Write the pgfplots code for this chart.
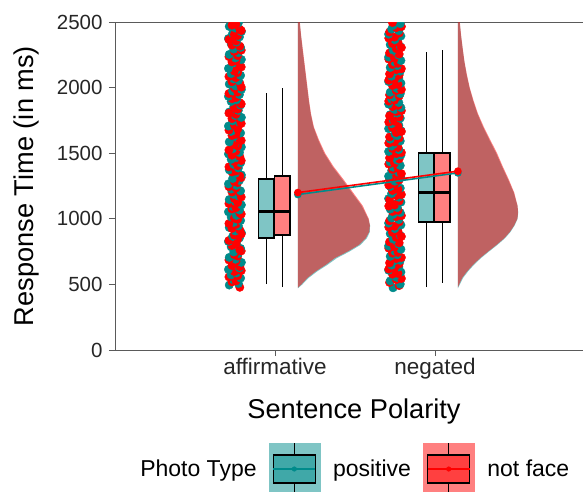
\documentclass[border=0pt]{standalone}
\usepackage{pgfplots}
\pgfplotsset{compat=1.18}
\usepackage{pgfplotstable}
\usepackage{fontspec}
\setmainfont{Liberation Sans}

\definecolor{tealpt}{RGB}{0,139,139}
\definecolor{redpt}{RGB}{255,0,0}
\definecolor{tealbox}{RGB}{127,197,197}
\definecolor{redbox}{RGB}{255,128,128}
\definecolor{tealmid}{RGB}{64,168,168}
\definecolor{redmid}{RGB}{255,64,64}
\definecolor{axgray}{RGB}{90,90,90}

% half-violin outlines (y, half width in category units)
\pgfplotstableread{
y w
475 0
500 0.022
550 0.060
600 0.112
650 0.175
700 0.230
750 0.310
800 0.380
850 0.423
900 0.446
950 0.450
1000 0.443
1100 0.405
1200 0.345
1300 0.285
1400 0.222
1500 0.170
1600 0.132
1700 0.100
1800 0.082
1900 0.070
2000 0.060
2100 0.050
2200 0.040
2300 0.030
2400 0.020
2500 0.012
2600 0.008
2600 0
}\vAR
\pgfplotstableread{
y w
470 0
500 0.028
550 0.068
600 0.122
650 0.186
700 0.243
750 0.322
800 0.390
850 0.430
900 0.450
950 0.451
1000 0.440
1100 0.398
1200 0.337
1300 0.277
1400 0.215
1500 0.164
1600 0.127
1700 0.097
1800 0.080
1900 0.068
2000 0.058
2100 0.048
2200 0.038
2300 0.028
2400 0.019
2500 0.011
2600 0.007
2600 0
}\vAT
\pgfplotstableread{
y w
478 0
500 0.008
550 0.027
600 0.058
650 0.095
700 0.138
750 0.188
800 0.240
850 0.288
900 0.325
950 0.352
1000 0.372
1050 0.376
1100 0.373
1200 0.352
1300 0.318
1400 0.280
1500 0.245
1600 0.203
1700 0.162
1800 0.126
1900 0.098
2000 0.074
2100 0.056
2200 0.041
2300 0.030
2400 0.020
2500 0.012
2600 0.008
2600 0
}\vNR
\pgfplotstableread{
y w
470 0
500 0.012
550 0.033
600 0.064
650 0.101
700 0.144
750 0.194
800 0.246
850 0.293
900 0.329
950 0.355
1000 0.373
1050 0.377
1100 0.372
1200 0.349
1300 0.313
1400 0.275
1500 0.239
1600 0.197
1700 0.157
1800 0.122
1900 0.095
2000 0.072
2100 0.054
2200 0.040
2300 0.029
2400 0.019
2500 0.011
2600 0.007
2600 0
}\vNT

% jittered raw points: affirmative
\pgfplotstableread{
dx y c
-0.036 495 t
0.030 478 r
0.021 507 t
-0.019 519 r
-0.008 534 t
0.006 526 r
0.035 548 t
-0.038 557 r
-0.024 573 t
0.017 566 r
0.009 587 t
-0.004 598 r
-0.041 614 t
0.039 605 r
0.028 626 t
0.030 636 r
-0.015 655 t
-0.019 644 r
0.040 668 t
0.006 675 r
0.002 692 t
-0.038 686 r
-0.036 706 t
0.017 716 r
0.021 735 t
-0.004 727 r
-0.008 747 t
0.039 755 r
0.035 774 t
0.030 764 r
-0.024 786 t
-0.019 797 r
0.009 813 t
0.006 806 r
-0.041 827 t
-0.038 835 r
0.028 854 t
0.017 845 r
-0.015 866 t
-0.004 876 r
0.040 893 t
0.039 884 r
0.002 907 t
0.030 915 r
-0.036 934 t
-0.019 926 r
0.021 946 t
0.006 957 r
-0.008 973 t
-0.038 964 r
0.035 987 t
0.017 996 r
-0.024 1014 t
-0.004 1005 r
0.009 1026 t
0.039 1036 r
-0.041 1053 t
0.030 1044 r
0.028 1067 t
-0.019 1075 r
-0.015 1094 t
0.006 1085 r
0.040 1106 t
-0.038 1116 r
0.002 1133 t
0.017 1124 r
-0.036 1147 t
-0.004 1155 r
0.021 1174 t
0.039 1166 r
-0.008 1186 t
0.030 1197 r
0.035 1213 t
-0.019 1204 r
-0.024 1227 t
0.006 1235 r
0.009 1254 t
-0.038 1245 r
-0.041 1266 t
0.017 1276 r
0.028 1293 t
-0.004 1284 r
-0.015 1307 t
0.039 1315 r
0.040 1334 t
0.030 1326 r
0.002 1346 t
-0.019 1357 r
-0.036 1373 t
0.006 1364 r
0.021 1387 t
-0.038 1396 r
-0.008 1414 t
0.017 1405 r
0.035 1426 t
-0.004 1436 r
-0.024 1453 t
0.039 1444 r
0.009 1467 t
0.030 1475 r
-0.041 1494 t
-0.019 1485 r
0.028 1506 t
0.006 1516 r
-0.015 1533 t
-0.038 1524 r
0.040 1547 t
0.017 1555 r
0.002 1574 t
-0.004 1566 r
-0.036 1586 t
0.039 1597 r
0.021 1613 t
0.030 1604 r
-0.008 1627 t
-0.019 1635 r
0.035 1654 t
0.006 1645 r
-0.024 1666 t
-0.038 1676 r
0.009 1693 t
0.017 1684 r
-0.041 1707 t
-0.004 1715 r
0.028 1734 t
0.039 1726 r
-0.015 1746 t
0.030 1757 r
0.040 1773 t
-0.019 1764 r
0.002 1787 t
0.006 1796 r
-0.036 1814 t
-0.038 1805 r
0.021 1826 t
0.017 1836 r
-0.008 1853 t
-0.004 1844 r
0.035 1867 t
0.039 1875 r
-0.024 1894 t
0.030 1885 r
0.009 1906 t
-0.019 1916 r
-0.041 1933 t
0.006 1924 r
0.028 1947 t
-0.038 1955 r
-0.015 1974 t
0.017 1966 r
0.040 1986 t
-0.004 1997 r
0.002 2013 t
0.039 2004 r
-0.036 2027 t
0.030 2035 r
0.021 2054 t
-0.019 2045 r
-0.008 2066 t
0.006 2076 r
0.035 2093 t
-0.038 2084 r
-0.024 2107 t
0.017 2115 r
0.009 2134 t
-0.004 2126 r
-0.041 2146 t
0.039 2157 r
0.028 2173 t
0.030 2164 r
-0.015 2187 t
-0.019 2196 r
0.040 2214 t
0.006 2205 r
0.002 2226 t
-0.038 2236 r
-0.036 2253 t
0.017 2244 r
0.021 2267 t
-0.004 2275 r
-0.008 2294 t
0.039 2285 r
0.035 2306 t
0.030 2316 r
-0.024 2333 t
-0.019 2324 r
0.009 2347 t
0.006 2355 r
-0.041 2374 t
-0.038 2366 r
0.028 2386 t
0.017 2397 r
-0.015 2413 t
-0.004 2404 r
0.040 2427 t
0.039 2435 r
0.002 2454 t
0.030 2445 r
-0.036 2466 t
-0.019 2476 r
0.021 2493 t
0.006 2484 r
}\ptsA

% jittered raw points: negated
\pgfplotstableread{
dx y c
-0.012 474 t
0.026 491 r
0.033 502 t
-0.034 515 r
-0.030 527 t
0.008 536 r
0.014 553 t
0.040 545 r
-0.001 561 t
-0.016 578 r
0.037 594 t
0.019 584 r
-0.040 608 t
-0.039 617 r
0.024 633 t
-0.003 625 r
-0.021 647 t
0.026 656 r
-0.012 674 t
-0.034 664 r
0.033 683 t
0.008 697 r
-0.030 714 t
0.040 705 r
0.014 726 t
-0.016 738 r
-0.001 753 t
0.019 744 r
0.037 768 t
-0.039 776 r
-0.040 793 t
-0.003 785 r
0.024 807 t
0.026 817 r
-0.021 834 t
-0.034 824 r
-0.012 846 t
0.008 858 r
0.033 873 t
0.040 865 r
-0.030 887 t
-0.016 896 r
0.014 914 t
0.019 904 r
-0.001 925 t
-0.039 937 r
0.037 953 t
-0.003 944 r
-0.040 967 t
0.026 976 r
0.024 994 t
-0.034 985 r
-0.021 1006 t
0.008 1017 r
-0.012 1033 t
0.040 1024 r
0.033 1047 t
-0.016 1056 r
-0.030 1074 t
0.019 1064 r
0.014 1086 t
-0.039 1097 r
-0.001 1113 t
-0.003 1105 r
0.037 1127 t
0.026 1136 r
-0.040 1154 t
-0.034 1144 r
0.024 1165 t
0.008 1177 r
-0.021 1193 t
0.040 1185 r
-0.012 1207 t
-0.016 1216 r
0.033 1234 t
0.019 1224 r
-0.030 1246 t
-0.039 1257 r
0.014 1273 t
-0.003 1265 r
-0.001 1287 t
0.026 1296 r
0.037 1314 t
-0.034 1304 r
-0.040 1325 t
0.008 1337 r
0.024 1353 t
0.040 1344 r
-0.021 1367 t
-0.016 1376 r
-0.012 1394 t
0.019 1385 r
0.033 1406 t
-0.039 1417 r
-0.030 1433 t
-0.003 1424 r
0.014 1447 t
0.026 1456 r
-0.001 1474 t
-0.034 1464 r
0.037 1486 t
0.008 1497 r
-0.040 1513 t
0.040 1505 r
0.024 1527 t
-0.016 1536 r
-0.021 1554 t
0.019 1544 r
-0.012 1565 t
-0.039 1577 r
0.033 1593 t
-0.003 1585 r
-0.030 1607 t
0.026 1616 r
0.014 1634 t
-0.034 1624 r
-0.001 1646 t
0.008 1657 r
0.037 1673 t
0.040 1665 r
-0.040 1687 t
-0.016 1696 r
0.024 1714 t
0.019 1704 r
-0.021 1725 t
-0.039 1737 r
-0.012 1753 t
-0.003 1744 r
0.033 1767 t
0.026 1776 r
-0.030 1794 t
-0.034 1785 r
0.014 1806 t
0.008 1817 r
-0.001 1833 t
0.040 1824 r
0.037 1847 t
-0.016 1856 r
-0.040 1874 t
0.019 1864 r
0.024 1886 t
-0.039 1897 r
-0.021 1913 t
-0.003 1905 r
-0.012 1927 t
0.026 1936 r
0.033 1954 t
-0.034 1944 r
-0.030 1965 t
0.008 1977 r
0.014 1993 t
0.040 1985 r
-0.001 2007 t
-0.016 2016 r
0.037 2034 t
0.019 2024 r
-0.040 2046 t
-0.039 2057 r
0.024 2073 t
-0.003 2065 r
-0.021 2087 t
0.026 2096 r
-0.012 2114 t
-0.034 2104 r
0.033 2125 t
0.008 2137 r
-0.030 2153 t
0.040 2144 r
0.014 2167 t
-0.016 2176 r
-0.001 2194 t
0.019 2185 r
0.037 2206 t
-0.039 2217 r
-0.040 2233 t
-0.003 2224 r
0.024 2247 t
0.026 2256 r
-0.021 2274 t
-0.034 2264 r
-0.012 2286 t
0.008 2297 r
0.033 2313 t
0.040 2305 r
-0.030 2327 t
-0.016 2336 r
0.014 2354 t
0.019 2344 r
-0.001 2365 t
-0.039 2377 r
0.037 2393 t
-0.003 2385 r
-0.040 2407 t
0.026 2416 r
0.024 2434 t
-0.034 2424 r
-0.021 2446 t
0.008 2457 r
-0.012 2473 t
0.040 2465 r
0.033 2487 t
-0.016 2496 r
}\ptsB

\begin{document}
\begin{tikzpicture}
\begin{axis}[
  scale only axis, width=478pt, height=328pt,
  xmin=0, xmax=2.9875, ymin=0, ymax=2500,
  axis lines=left, axis line style={-, axgray, line width=0.8pt},
  clip marker paths=true,
  xtick={1,2}, xticklabels={affirmative,negated},
  ytick={0,500,1000,1500,2000,2500},
  tick align=outside, major tick length=6pt,
  tick style={axgray, line width=0.8pt},
  /pgf/number format/assume math mode=true,
  /pgf/number format/1000 sep={},
  tick label style={text=black!85},
  xticklabel style={font=\fontsize{22.5}{26}\selectfont, yshift=1pt},
  yticklabel style={font=\fontsize{20.5}{24}\selectfont, xshift=-3pt},
  xlabel={Sentence Polarity}, ylabel={Response Time (in ms)},
  label style={font=\fontsize{27.2}{31}\selectfont, text=black},
  xlabel style={at={(axis description cs:0.5,-0.2073)}, anchor=base},
  ylabel style={at={(axis description cs:-0.186,0.5)}, anchor=center},
  legend columns=-1,
  legend style={at={(axis description cs:0.488,-0.3628)}, anchor=center,
    draw=none, fill=none, font=\fontsize{23}{27}\selectfont,
    nodes={inner sep=0pt},
    /tikz/every even column/.append style={column sep=12pt},
    /tikz/every odd column/.append style={column sep=13pt}},
]
\coordinate (O) at (rel axis cs:0,0);
% top border line
\draw[axgray, line width=0.8pt] (rel axis cs:0,1) -- (rel axis cs:1,1);

% half violins
\addplot[draw=none, fill=tealpt, fill opacity=0.5, forget plot] table[x expr=1.143+\thisrow{w}, y=y] {\vAT};
\addplot[draw=none, fill=redpt, fill opacity=0.5, forget plot] table[x expr=1.143+\thisrow{w}, y=y] {\vAR};
\addplot[draw=none, fill=tealpt, fill opacity=0.5, forget plot] table[x expr=2.143+\thisrow{w}, y=y] {\vNT};
\addplot[draw=none, fill=redpt, fill opacity=0.5, forget plot] table[x expr=2.143+\thisrow{w}, y=y] {\vNR};

% raw points
\addplot[scatter, only marks, mark=*, mark size=4.2pt, forget plot,
  scatter src=explicit symbolic,
  scatter/classes={t={tealpt}, r={redpt}}]
  table[x expr=0.750+\thisrow{dx}, y=y, meta=c] {\ptsA};
\addplot[scatter, only marks, mark=*, mark size=4.2pt, forget plot,
  scatter src=explicit symbolic,
  scatter/classes={t={tealpt}, r={redpt}}]
  table[x expr=1.750+\thisrow{dx}, y=y, meta=c] {\ptsB};

% boxplots (whiskers, boxes, medians)
\pgfplotsset{bl/.style={black, line width=1.6pt, forget plot}}
% affirmative positive
\addplot[bl] coordinates {(0.946,503) (0.946,854)};
\addplot[bl] coordinates {(0.946,1303) (0.946,1959)};
\addplot[bl, fill=tealbox, line cap=rect] coordinates {(0.898,854) (0.994,854) (0.994,1303) (0.898,1303) (0.898,854)};
\addplot[black, line width=3pt, forget plot] coordinates {(0.898,1052) (0.994,1052)};
% affirmative not face
\addplot[bl] coordinates {(1.046,480) (1.046,877)};
\addplot[bl] coordinates {(1.046,1326) (1.046,1997)};
\addplot[bl, fill=redbox, line cap=rect] coordinates {(0.998,877) (1.094,877) (1.094,1326) (0.998,1326) (0.998,877)};
\addplot[black, line width=3pt, forget plot] coordinates {(0.998,1059) (1.094,1059)};
% negated positive
\addplot[bl] coordinates {(1.946,480) (1.946,976)};
\addplot[bl] coordinates {(1.946,1502) (1.946,2271)};
\addplot[bl, fill=tealbox, line cap=rect] coordinates {(1.898,976) (1.994,976) (1.994,1502) (1.898,1502) (1.898,976)};
\addplot[black, line width=3pt, forget plot] coordinates {(1.898,1204) (1.994,1204)};
% negated not face
\addplot[bl] coordinates {(2.046,511) (2.046,976)};
\addplot[bl] coordinates {(2.046,1502) (2.046,2287)};
\addplot[bl, fill=redbox, line cap=rect] coordinates {(1.998,976) (2.094,976) (2.094,1502) (1.998,1502) (1.998,976)};
\addplot[black, line width=3pt, forget plot] coordinates {(1.998,1204) (2.094,1204)};

% means
\addplot[tealpt, line width=1.6pt, mark=*, mark size=3pt, forget plot] coordinates {(1.143,1185) (2.143,1350)};
\addplot[redpt, line width=1.6pt, mark=*, mark size=3pt, forget plot] coordinates {(1.143,1200) (2.143,1363)};

% legend
\addlegendimage{empty legend}
\addlegendentry{Photo Type}
\addlegendimage{legend image code/.code={
  \fill[tealbox] (0pt,-26pt) rectangle (51pt,26pt);
  \draw[black, line width=1.3pt] (25.5pt,-26pt) -- (25.5pt,-14pt);
  \draw[black, line width=1.3pt] (25.5pt,14pt) -- (25.5pt,26pt);
  \filldraw[fill=tealmid, draw=black, line width=1.3pt] (4.5pt,-14pt) rectangle (46.5pt,14pt);
  \draw[tealpt, line width=1.3pt] (4.5pt,0pt) -- (46.5pt,0pt);
  \fill[tealpt] (25.5pt,0pt) circle (2.3pt);
}}
\addlegendentry{positive}
\addlegendimage{legend image code/.code={
  \fill[redbox] (0pt,-26pt) rectangle (51pt,26pt);
  \draw[black, line width=1.3pt] (25.5pt,-26pt) -- (25.5pt,-14pt);
  \draw[black, line width=1.3pt] (25.5pt,14pt) -- (25.5pt,26pt);
  \filldraw[fill=redmid, draw=black, line width=1.3pt] (4.5pt,-14pt) rectangle (46.5pt,14pt);
  \draw[redpt, line width=1.3pt] (4.5pt,0pt) -- (46.5pt,0pt);
  \fill[redpt] (25.5pt,0pt) circle (2.3pt);
}}
\addlegendentry{not face}
\end{axis}
\pgfresetboundingbox
\path ([xshift=-115pt,yshift=-141pt]O) rectangle ([xshift=468pt,yshift=350pt]O);
\end{tikzpicture}
\end{document}
